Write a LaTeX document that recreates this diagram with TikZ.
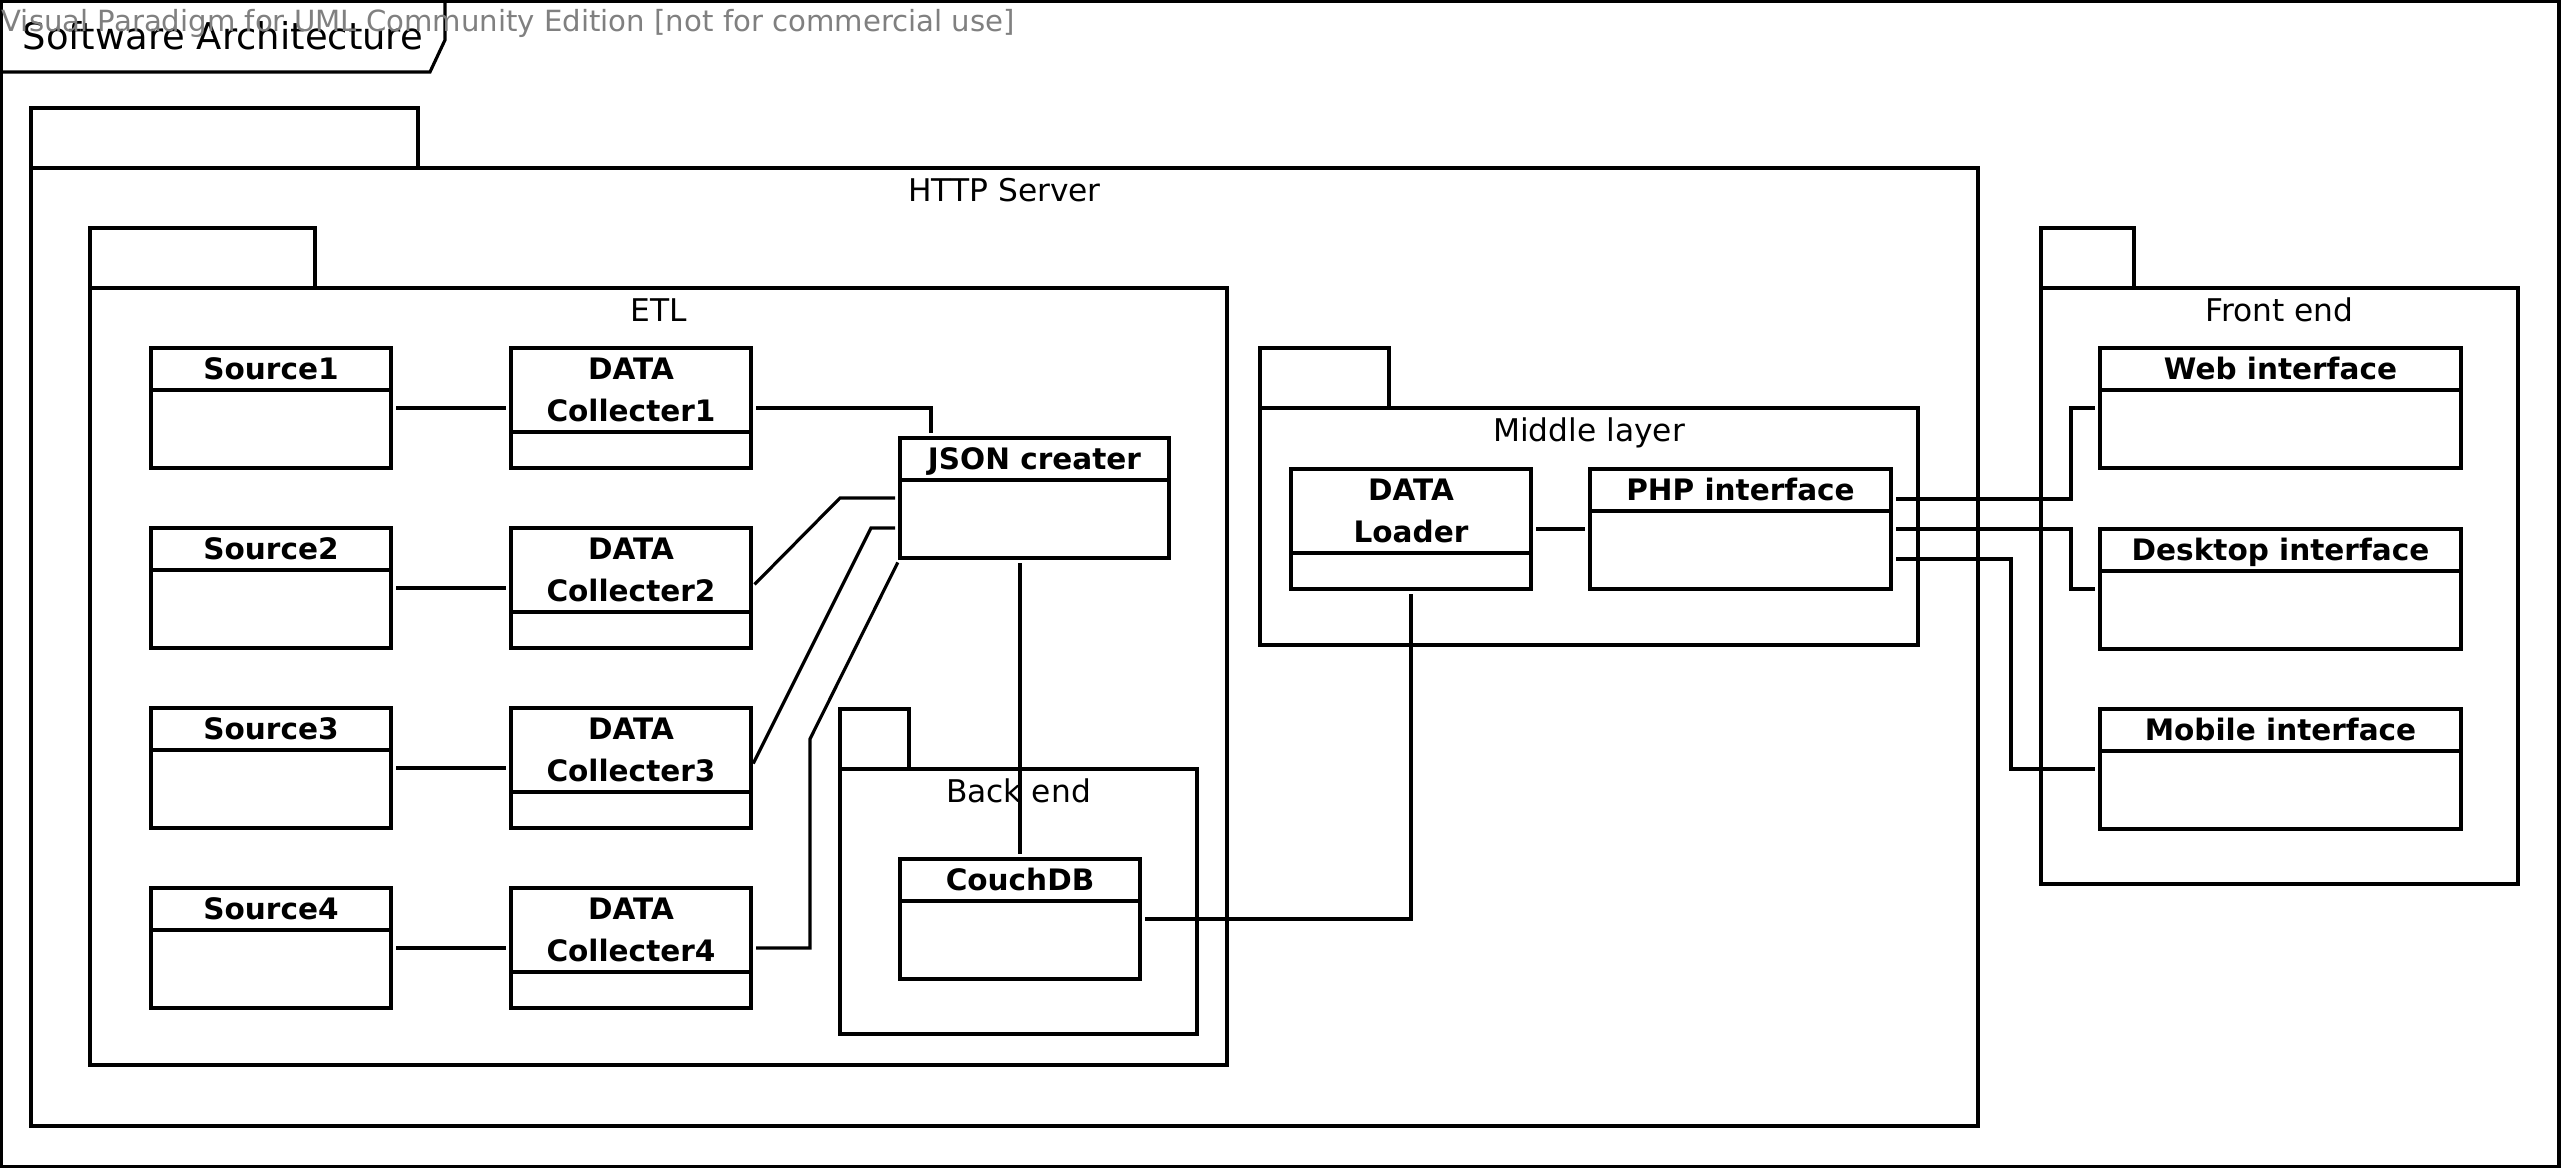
\documentclass[tikz,border=0pt]{standalone}
\usepackage{fontspec}
\setmainfont{DejaVu Sans}
\usepackage{tikz}
\usetikzlibrary{positioning}
\definecolor{wmgray}{RGB}{128,128,128}

\begin{document}
\begin{tikzpicture}[line width=0.9pt]
	\tikzstyle{cls}=[draw, minimum width=2.4cm, minimum height=1.2cm,
		inner sep=0pt, outer sep=0pt,
		path picture={\draw ([yshift=-4.2mm]path picture bounding box.north west)
			-- ([yshift=-4.2mm]path picture bounding box.north east);}]
	\tikzstyle{clsii}=[cls,
		path picture={\draw ([yshift=-8.4mm]path picture bounding box.north west)
			-- ([yshift=-8.4mm]path picture bounding box.north east);}]
	\tikzstyle{hd}=[anchor=center, yshift=-2.1mm, text height=6.1pt, text depth=0pt,
		font=\fontsize{8.4}{11.9}\selectfont\bfseries]
	\tikzstyle{hdii}=[anchor=center, yshift=-4.2mm, align=center,
		font=\fontsize{8.4}{11.9}\selectfont\bfseries]
	\tikzstyle{pkg}=[draw, anchor=north west, inner sep=0pt, outer sep=0pt]
	\tikzstyle{pkgname}=[anchor=base, yshift=-3.35mm, inner sep=0pt,
		font=\fontsize{8.9}{10.7}\selectfont]
	\tikzstyle{conn}=[shorten <=0.5mm, shorten >=0.5mm]
	\useasboundingbox (0,0) rectangle (25.62,-11.70);
	% % Frame
	\node[draw, anchor=north west, minimum width=25.575cm, minimum height=11.65cm,
		  inner sep=0pt, outer sep=0pt] (frame) at (0.015,-0.015) {};
	\draw ([yshift=-7.05mm]frame.north west) -- ++(4.285,0) -- ++(0.15,0.32)
		-- ([xshift=4.435cm]frame.north west);
	\node[anchor=base west, inner sep=0pt, font=\fontsize{10.5}{12}\selectfont]
	(title) at (0.21,-0.50) {Software Architecture};
	\node[anchor=base west, inner sep=0pt, text=wmgray, font=\fontsize{8.3}{10}\selectfont]
	(wm) at (0,-0.315) {Visual Paradigm for UML Community Edition [not for commercial use]};
	% % Packages
	\node[pkg, minimum width=19.47cm, minimum height=9.58cm,
		  label={[pkgname]north:HTTP Server}] (http) at (0.31,-1.68) {};
	\node[pkg, minimum width=11.37cm, minimum height=7.77cm,
		  label={[pkgname]north:ETL}] (etl) at (0.90,-2.88) {};
	\node[pkg, minimum width=3.57cm, minimum height=2.65cm,
		  label={[pkgname]north:Back end}] (back) at (8.40,-7.69) {};
	\node[pkg, minimum width=6.58cm, minimum height=2.37cm,
		  label={[pkgname]north:Middle layer}] (mid) at (12.60,-4.08) {};
	\node[pkg, minimum width=4.77cm, minimum height=5.96cm,
		  label={[pkgname]north:Front end}] (front) at (20.41,-2.88) {};
	% package tabs
	\foreach \p/\w in {http/3.87, etl/2.25, back/0.69, mid/1.29, front/0.93}
		\draw (\p.north west) rectangle ++(\w,0.6);
	% % Classes
	% sources and collecters
	\node[cls, below right=0.6cm and 0.61cm of etl.north west,
		  label={[hd]north:Source1}] (src1) {};
	\node[clsii, right=1.2cm of src1, label={[hdii]north:{DATA\\Collecter1}}] (col1) {};
	\node[cls, below=0.6cm of src1, label={[hd]north:Source2}] (src2) {};
	\node[clsii, right=1.2cm of src2, label={[hdii]north:{DATA\\Collecter2}}] (col2) {};
	\node[cls, below=0.6cm of src2, label={[hd]north:Source3}] (src3) {};
	\node[clsii, right=1.2cm of src3, label={[hdii]north:{DATA\\Collecter3}}] (col3) {};
	\node[cls, below=0.6cm of src3, label={[hd]north:Source4}] (src4) {};
	\node[clsii, right=1.2cm of src4, label={[hdii]north:{DATA\\Collecter4}}] (col4) {};
	% json creater
	\node[cls, minimum width=2.69cm, below right=0.9cm and 1.49cm of col1.north east,
		  label={[hd]north:JSON creater}] (json) {};
	% back end
	\node[cls, below right=0.9cm and 0.6cm of back.north west,
		  label={[hd]north:CouchDB}] (couch) {};
	% middle layer
	\node[clsii, below right=0.61cm and 0.31cm of mid.north west,
		  label={[hdii]north:{DATA\\Loader}}] (loader) {};
	\node[cls, minimum width=3.01cm, right=0.59cm of loader,
		  label={[hd]north:PHP interface}] (php) {};
	% front end
	\node[cls, minimum width=3.61cm, below right=0.6cm and 0.59cm of front.north west,
		  label={[hd]north:Web interface}] (web) {};
	\node[cls, minimum width=3.61cm, below=0.61cm of web,
		  label={[hd]north:Desktop interface}] (desk) {};
	\node[cls, minimum width=3.61cm, below=0.6cm of desk,
		  label={[hd]north:Mobile interface}] (mob) {};
	% % Connectors
	\foreach \i in {1,2,3,4}
		\draw[conn] (src\i) -- (col\i);
	\draw[conn] (col1.east) -| ([xshift=3.1mm]json.north west);
	\draw[conn] (col2.east) -- ([xshift=-6mm]json.west) -- (json.west);
	\draw[conn] (col3.east) -- ([xshift=-2.9mm, yshift=-3mm]json.west)
		-- ([yshift=-3mm]json.west);
	\draw[conn] (col4.east) -- ++(0.59,0) -- ++(0,2.09) -- (json.south west);
	\draw[conn] (couch.north) -- (couch.north |- json.south);
	\draw[conn] (couch.east) -| (loader.south);
	\draw[conn] (loader) -- (php);
	\draw[conn] ([yshift=3mm]php.east) -- ++(1.8,0) |- (web.west);
	\draw[conn] (php.east) -- ++(1.8,0) |- (desk.west);
	\draw[conn] ([yshift=-3mm]php.east) -- ++(1.2,0) |- (mob.west);
\end{tikzpicture}
\end{document}
